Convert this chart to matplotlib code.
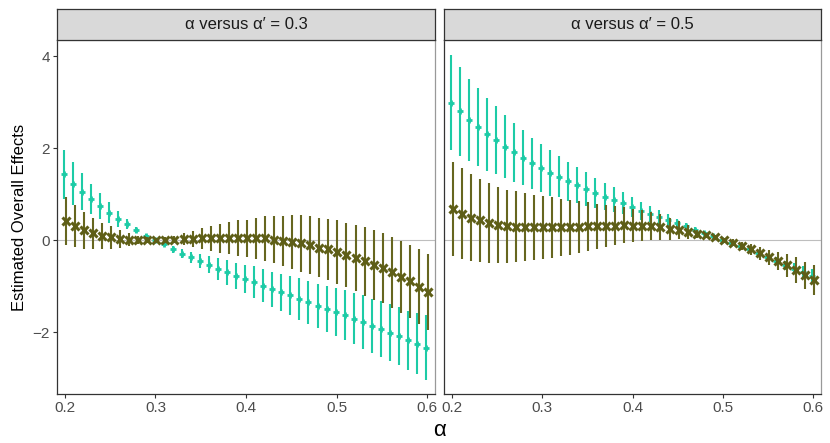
import matplotlib
matplotlib.use("Agg")
import matplotlib.pyplot as plt
import numpy as np

plt.rcParams['font.family'] = ['Liberation Sans', 'DejaVu Sans']

alpha = [round(0.20 + 0.01 * i, 2) for i in range(41)]

panel_titles = ["α versus α′ = 0.3", "α versus α′ = 0.5"]

# Left panel (alpha' = 0.3)
teal_mean_03 = [1.43, 1.23, 1.05, 0.89, 0.74, 0.60, 0.46, 0.35, 0.22, 0.10, 0.00,
                -0.09, -0.20, -0.29, -0.37, -0.45, -0.53, -0.62, -0.70, -0.77, -0.84,
                -0.91, -0.99, -1.06, -1.13, -1.20, -1.28, -1.35, -1.42, -1.49, -1.56,
                -1.63, -1.70, -1.78, -1.86, -1.93, -2.01, -2.09, -2.17, -2.25, -2.33]
teal_hw_03 = [0.54, 0.46, 0.40, 0.33, 0.28, 0.22, 0.17, 0.11, 0.07, 0.04, 0.02,
              0.04, 0.07, 0.09, 0.12, 0.15, 0.19, 0.24, 0.27, 0.28, 0.31,
              0.34, 0.36, 0.38, 0.40, 0.43, 0.45, 0.46, 0.48, 0.50, 0.53,
              0.54, 0.55, 0.58, 0.59, 0.60, 0.62, 0.63, 0.64, 0.66, 0.70]
olive_mean_03 = [0.41, 0.31, 0.22, 0.15, 0.09, 0.06, 0.03, 0.01, 0.01, 0.01, 0.00,
                 0.01, 0.01, 0.02, 0.03, 0.04, 0.04, 0.04, 0.05, 0.05, 0.04,
                 0.04, 0.04, 0.01, -0.01, -0.04, -0.07, -0.11, -0.16, -0.20, -0.25,
                 -0.32, -0.39, -0.46, -0.53, -0.61, -0.70, -0.80, -0.89, -1.01, -1.12]
olive_hw_03 = [0.52, 0.46, 0.40, 0.34, 0.29, 0.24, 0.19, 0.14, 0.09, 0.05, 0.02,
               0.06, 0.08, 0.13, 0.17, 0.22, 0.28, 0.32, 0.35, 0.39, 0.41,
               0.45, 0.48, 0.51, 0.54, 0.58, 0.61, 0.63, 0.64, 0.67, 0.69,
               0.70, 0.72, 0.75, 0.76, 0.76, 0.77, 0.79, 0.79, 0.82, 0.82]

# Right panel (alpha' = 0.5)
teal_mean_05 = [2.99, 2.80, 2.62, 2.46, 2.30, 2.17, 2.03, 1.91, 1.79, 1.67, 1.57,
                1.46, 1.38, 1.28, 1.20, 1.11, 1.03, 0.95, 0.88, 0.80, 0.72,
                0.64, 0.57, 0.50, 0.44, 0.37, 0.30, 0.23, 0.16, 0.09, 0.01,
                -0.05, -0.12, -0.20, -0.28, -0.37, -0.45, -0.54, -0.62, -0.70, -0.78]
teal_hw_05 = [1.03, 0.96, 0.89, 0.84, 0.79, 0.74, 0.68, 0.64, 0.60, 0.56, 0.52,
              0.49, 0.45, 0.43, 0.40, 0.37, 0.33, 0.30, 0.27, 0.24, 0.21,
              0.19, 0.18, 0.16, 0.13, 0.10, 0.07, 0.05, 0.04, 0.03, 0.02,
              0.03, 0.04, 0.05, 0.06, 0.07, 0.09, 0.10, 0.12, 0.14, 0.16]
olive_mean_05 = [0.68, 0.58, 0.49, 0.43, 0.38, 0.33, 0.30, 0.29, 0.28, 0.28, 0.28,
                 0.28, 0.28, 0.28, 0.29, 0.30, 0.30, 0.31, 0.32, 0.33, 0.32,
                 0.32, 0.31, 0.29, 0.25, 0.22, 0.18, 0.14, 0.11, 0.07, 0.00,
                 -0.05, -0.12, -0.20, -0.28, -0.37, -0.45, -0.54, -0.65, -0.76, -0.87]
olive_hw_05 = [1.02, 0.98, 0.94, 0.90, 0.87, 0.83, 0.80, 0.77, 0.74, 0.71, 0.68,
               0.66, 0.62, 0.59, 0.56, 0.53, 0.49, 0.46, 0.43, 0.40, 0.36,
               0.33, 0.30, 0.28, 0.24, 0.20, 0.15, 0.09, 0.05, 0.05, 0.03,
               0.08, 0.09, 0.12, 0.14, 0.16, 0.20, 0.25, 0.28, 0.29, 0.33]

x_ticks = [0.2, 0.3, 0.4, 0.5, 0.6]
x_ticklabels = ["0.2", "0.3", "0.4", "0.5", "0.6"]
y_ticks = [-2, 0, 2, 4]
y_ticklabels = ["\u22122", "0", "2", "4"]

TEAL = "#1DCBA6"
OLIVE = "#5E5E17"
OLIVE_BAR = "#66661F"
DARK = "#333333"
TICKC = "#4D4D4D"

W, H = 830, 443
fig = plt.figure(figsize=(W / 100, H / 100), dpi=100)

panels = [
    (57, 378, teal_mean_03, teal_hw_03, olive_mean_03, olive_hw_03),
    (444, 377, teal_mean_05, teal_hw_05, olive_mean_05, olive_hw_05),
]
top_px, bot_px, strip_top = 40, 394, 9
dodge = 0.001
x = np.array(alpha)

for k, (x0, w, tm, th, om, oh) in enumerate(panels):
    ax = fig.add_axes([x0 / W, 1 - bot_px / H, w / W, (bot_px - top_px) / H])
    ax.set_xlim(0.1912, 0.6088)
    ax.set_ylim(-3.34, 4.35)
    ax.axhline(0, color="#BEBEBE", lw=0.8, zorder=1)
    ax.errorbar(x - dodge, tm, yerr=th, fmt="none", ecolor=TEAL, elinewidth=1.5,
                capsize=0, zorder=2)
    ax.plot(x - dodge, tm, linestyle="none", marker="+", markersize=4.5,
            markeredgewidth=2.0, color=TEAL, zorder=3)
    ax.errorbar(x + dodge, om, yerr=oh, fmt="none", ecolor=OLIVE_BAR, elinewidth=1.5,
                capsize=0, zorder=4)
    ax.plot(x + dodge, om, linestyle="none", marker="x", markersize=5.5,
            markeredgewidth=2.2, color=OLIVE, zorder=5)
    ax.set_xticks(x_ticks)
    ax.set_xticklabels(x_ticklabels)
    ax.set_yticks(y_ticks)
    ax.tick_params(axis="both", colors=DARK, labelcolor=TICKC, labelsize=11,
                   length=3, width=0.8, pad=2)
    if k == 0:
        ax.set_yticklabels(y_ticklabels)
        ax.set_ylabel("Estimated Overall Effects", fontsize=12, color="black", labelpad=4)
    else:
        ax.set_yticklabels([])
        ax.tick_params(axis="y", length=0, width=0)
    for s in ax.spines.values():
        s.set_color(DARK)
        s.set_linewidth(0.9)
    ax.spines["top"].set_color("#BBBBBB")
    ax.spines["right"].set_color("#999999")

    sax = fig.add_axes([x0 / W, 1 - top_px / H, w / W, (top_px - strip_top) / H])
    sax.set_facecolor("#D9D9D9")
    sax.set_xticks([])
    sax.set_yticks([])
    for s in sax.spines.values():
        s.set_color(DARK)
        s.set_linewidth(0.9)
    sax.text(0.5, 0.5, panel_titles[k], ha="center", va="center", fontsize=12,
             color="#1A1A1A", transform=sax.transAxes)

fig.text((57 + 821) / 2 / W, 1 - 431 / H, "α", ha="center", va="center", fontsize=16)

fig.savefig("out.png", dpi=100, facecolor="white")
